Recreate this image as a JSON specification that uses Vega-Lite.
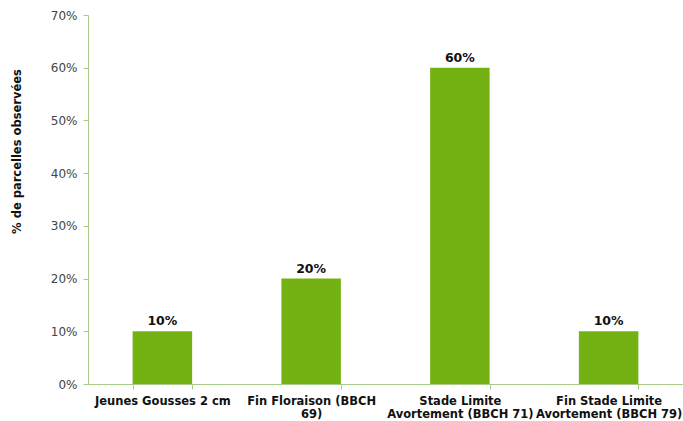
{
  "$schema": "https://vega.github.io/schema/vega-lite/v6.json",
  "width": 595,
  "height": 369,
  "autosize": {"type": "none"},
  "padding": {"left": 88, "top": 15, "right": 0, "bottom": 37},
  "background": "white",
  "config": {"view": {"stroke": null}, "font": "DejaVu Sans"},
  "data": {"values": [
    {"stade": "Jeunes Gousses 2 cm", "pct": 0.10},
    {"stade": "Fin Floraison (BBCH|69)", "pct": 0.20},
    {"stade": "Stade Limite|Avortement (BBCH 71)", "pct": 0.60},
    {"stade": "Fin Stade Limite|Avortement (BBCH 79)", "pct": 0.10}
  ]},
  "encoding": {
    "x": {"field": "stade", "type": "nominal", "sort": null,
      "scale": {"paddingInner": 0.6, "paddingOuter": 0.3},
      "axis": {"title": null, "labelAngle": 0, "labelExpr": "split(datum.label, '|')",
        "labelFont": "DejaVu Sans", "labelFontSize": 11.5, "labelFontWeight": "bold", "labelColor": "#111",
        "labelLimit": 0, "labelOverlap": false, "labelBound": false, "labelPadding": 6, "labelLineHeight": 13,
        "domainColor": "#a9c98a", "tickColor": "#a9c98a", "tickBand": "extent", "tickSize": 5}},
    "y": {"field": "pct", "type": "quantitative",
      "scale": {"domain": [0, 0.7]},
      "axis": {"title": "% de parcelles observées", "format": ".0%", "values": [0,0.1,0.2,0.3,0.4,0.5,0.6,0.7],
        "labelOverlap": false, "labelBound": false, "labelFlush": false,
        "grid": false, "labelFont": "DejaVu Sans", "labelFontSize": 12, "labelColor": "#444", "labelPadding": 6,
        "titleFont": "DejaVu Sans", "titleFontSize": 11.5, "titleFontWeight": "bold", "titleColor": "#111", "titlePadding": 28,
        "titleY": 136,
        "domainColor": "#a9c98a", "tickColor": "#a9c98a", "tickSize": 5}}
  },
  "layer": [
    {"mark": {"type": "bar", "color": "#74B213"}},
    {"mark": {"type": "text", "dy": -10, "font": "DejaVu Sans", "fontSize": 12.5, "fontWeight": "bold", "color": "#111"},
     "encoding": {"text": {"field": "pct", "type": "quantitative", "format": ".0%"}}}
  ]
}
